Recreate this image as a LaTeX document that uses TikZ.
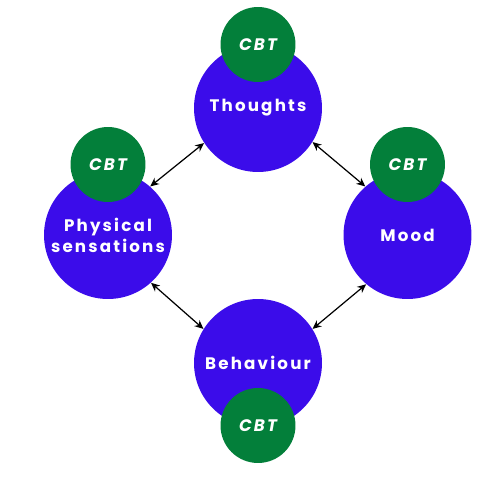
\documentclass[tikz,border=0pt]{standalone}
\usepackage{fontspec}
\usepackage{xcolor}
\usetikzlibrary{shapes.geometric}
\usetikzlibrary{arrows.meta}
\setmainfont{Poppins}
\newfontfamily\lblfont{Poppins}[LetterSpace=13]
\definecolor{moodblue}{HTML}{3B0CEA}
\definecolor{cbtgreen}{HTML}{037F3A}

\tikzset{
  big/.style={circle, fill=moodblue, minimum size=2.56cm, inner sep=0pt},
  lbl/.style={text=white, align=center, font=\lblfont\bfseries\fontsize{9.5}{12}\selectfont},
  cbt/.style={circle, fill=cbtgreen, minimum size=1.5cm, inner sep=0pt,
    text=white, font=\lblfont\bfseries\itshape\fontsize{9.5}{11}\selectfont},
  link/.style={{Stealth[length=5pt,width=4.5pt]}-{Stealth[length=5pt,width=4.5pt]}, line width=.7pt}
}

\begin{document}
\begin{tikzpicture}[x=.02cm, y=-.02cm]
  \useasboundingbox (0,0) rectangle (500,500);
  \node (th) [big, label={[lbl]center:Thoughts}] at (258,108) {};
  \node (ph) [big, label={[lbl]center:Physical\\sensations}] at (108,235) {};
  \node (md) [big, label={[lbl]center:Mood}] at (407.5,235) {};
  \node (bh) [big, label={[lbl]center:Behaviour}] at (258,363) {};

  \node (ct) [cbt] at (258,44.5) {CBT};
  \node (cp) [cbt] at (108,164.5) {CBT};
  \node (cm) [cbt] at (407.5,164.5) {CBT};
  \node (cb) [cbt] at (258,425.5) {CBT};

  \draw[link] (ph.49) -- (th.213);
  \draw[link] (th.328) -- (md.131);
  \draw[link] (md.230) -- (bh.32);
  \draw[link] (ph.312) -- (bh.148);
\end{tikzpicture}
\end{document}
